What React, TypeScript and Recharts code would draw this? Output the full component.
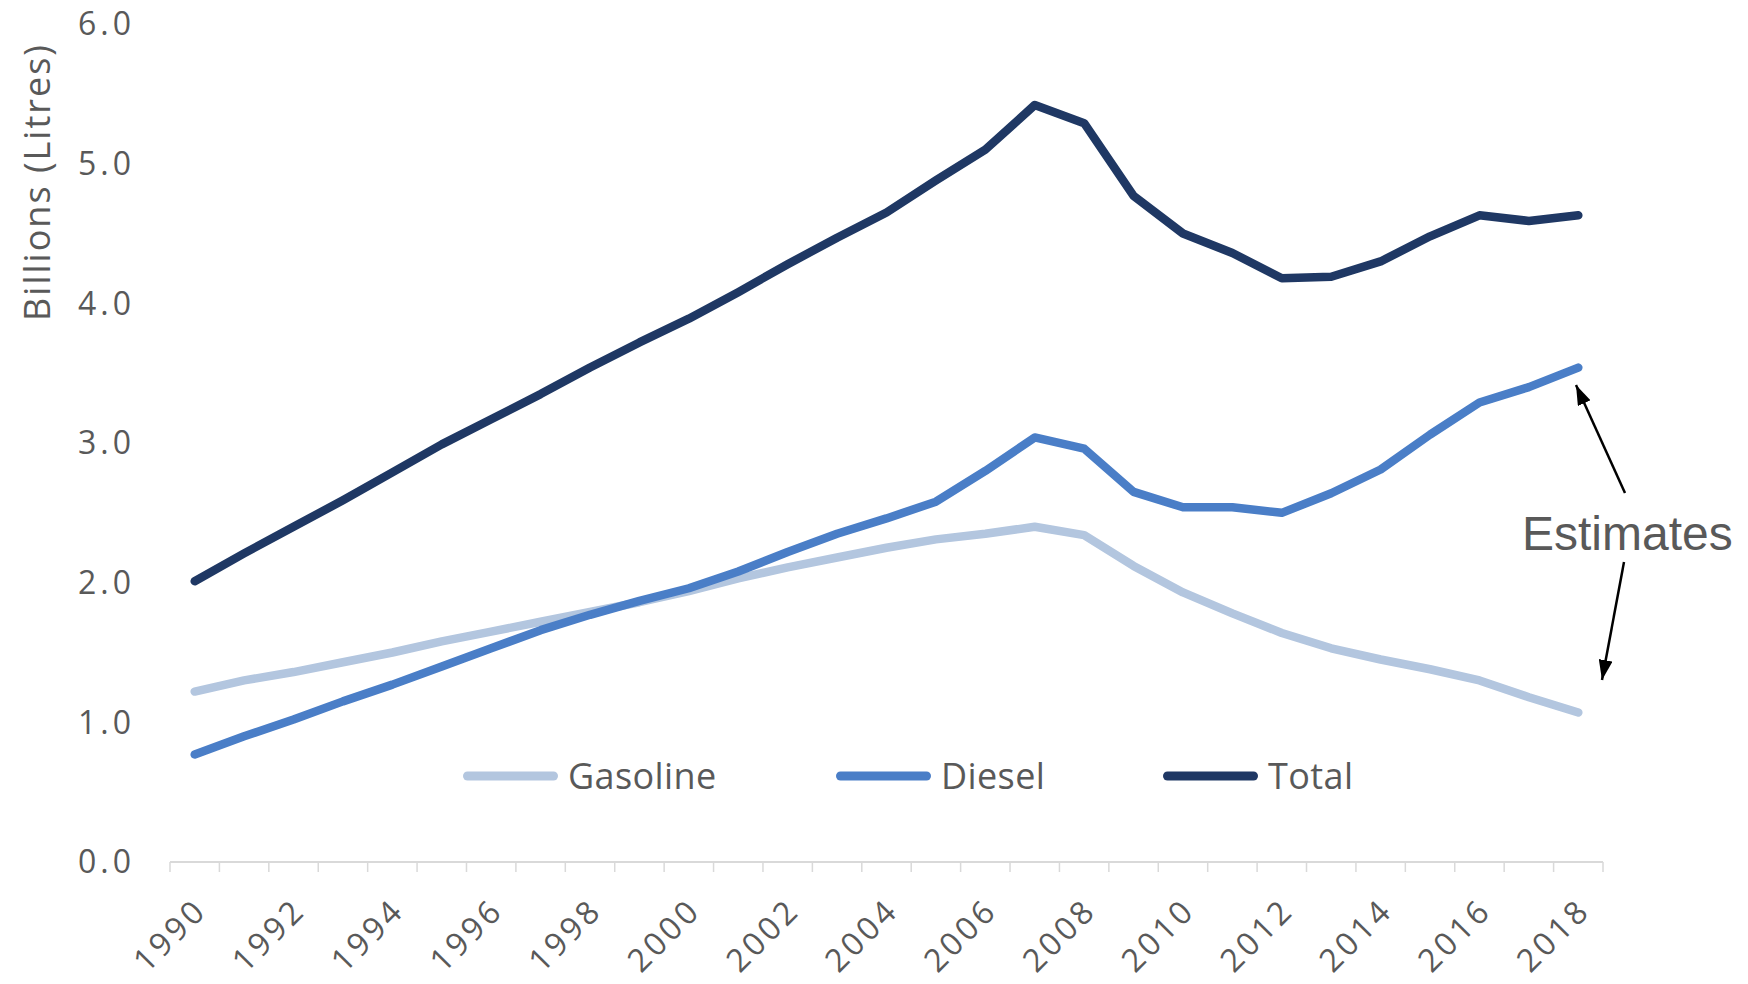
import React from 'react';
import { LineChart, Line, XAxis, YAxis, Legend } from 'recharts';

// ---------- data ----------
const years = [
  '1990', '1991', '1992', '1993', '1994', '1995', '1996', '1997', '1998', '1999',
  '2000', '2001', '2002', '2003', '2004', '2005', '2006', '2007', '2008', '2009',
  '2010', '2011', '2012', '2013', '2014', '2015', '2016', '2017', '2018',
];
const gasoline = [
  1.22, 1.30, 1.36, 1.43, 1.50, 1.58, 1.65, 1.72, 1.79, 1.86,
  1.94, 2.03, 2.11, 2.18, 2.25, 2.31, 2.35, 2.40, 2.34, 2.12,
  1.93, 1.78, 1.64, 1.53, 1.45, 1.38, 1.30, 1.18, 1.07,
];
const diesel = [
  0.77, 0.90, 1.02, 1.15, 1.27, 1.40, 1.53, 1.66, 1.77, 1.87,
  1.96, 2.08, 2.22, 2.35, 2.46, 2.58, 2.80, 3.04, 2.96, 2.65,
  2.54, 2.54, 2.50, 2.64, 2.81, 3.06, 3.29, 3.40, 3.54,
];
const total = [
  2.01, 2.21, 2.40, 2.59, 2.79, 2.99, 3.17, 3.35, 3.54, 3.72,
  3.89, 4.08, 4.28, 4.47, 4.65, 4.88, 5.10, 5.42, 5.29, 4.77,
  4.50, 4.36, 4.18, 4.19, 4.30, 4.48, 4.63, 4.59, 4.63,
];
const yTicks = [0, 1, 2, 3, 4, 5, 6];
const seriesNames = ['Gasoline', 'Diesel', 'Total'];
const seriesColors = ['#B3C6DF', '#4A7EC7', '#1F3864'];
const yAxisTitle = 'Billions (Litres)';
const annotationText = 'Estimates';

const data = years.map((year, i) => ({
  year,
  Gasoline: gasoline[i],
  Diesel: diesel[i],
  Total: total[i],
}));

// ---------- layout ----------
const W = 1740;
const H = 976;
const MARGIN = { top: 16, right: 145, left: 0, bottom: 0 };
const Y_AXIS_W = 162;
const X_AXIS_H = 122;
const PLOT_W = W - MARGIN.left - MARGIN.right - Y_AXIS_W;
const BAND = PLOT_W / years.length;
const TEXT_COLOR = '#595959';
const AXIS_COLOR = '#D9D9D9';
const TICK_FONT = '"Open Sans", "Noto Sans", sans-serif';

const XTick = (props: any) => {
  const { x, y, index, payload } = props;
  const half = BAND / 2;
  const isLast = index === years.length - 1;
  const showLabel = index % 2 === 0;
  const ax = x + 14;
  const ay = y + 50;
  return (
    <g>
      <line x1={x - half} y1={y} x2={x - half} y2={y + 10} stroke={AXIS_COLOR} strokeWidth={1.5} />
      {isLast && (
        <line x1={x + half} y1={y} x2={x + half} y2={y + 10} stroke={AXIS_COLOR} strokeWidth={1.5} />
      )}
      {showLabel && (
        <text
          x={ax}
          y={ay}
          textAnchor="end"
          transform={`rotate(-45 ${ax} ${ay})`}
          fontFamily={TICK_FONT}
          fontSize={32}
          letterSpacing={3.6}
          fill={TEXT_COLOR}
        >
          {payload.value}
        </text>
      )}
    </g>
  );
};

const YTick = (props: any) => {
  const { x, y, payload } = props;
  return (
    <text
      x={x - 35}
      y={y}
      dy="0.35em"
      textAnchor="end"
      fontFamily={TICK_FONT}
      fontSize={32}
      letterSpacing={4}
      fill={TEXT_COLOR}
    >
      {Number(payload.value).toFixed(1)}
    </text>
  );
};

const legendLeft = [455, 828, 1155];
const LEGEND_Y = 768;

const renderLegend = (props: any) => {
  const payload = [...(props.payload || [])].sort(
    (a: any, b: any) => seriesNames.indexOf(a.value) - seriesNames.indexOf(b.value)
  );
  return (
    <div style={{ position: 'relative', width: W, height: H }}>
      {payload.map((entry: any, i: number) => (
        <div
          key={entry.value}
          style={{
            position: 'absolute',
            left: legendLeft[i],
            top: LEGEND_Y - 25,
            height: 50,
            display: 'flex',
            alignItems: 'center',
            whiteSpace: 'nowrap',
          }}
        >
          <svg width={95} height={14} style={{ display: 'block' }}>
            <line x1={4.5} y1={7} x2={90.5} y2={7} stroke={entry.color} strokeWidth={9} strokeLinecap="round" />
          </svg>
          <span
            style={{
              marginLeft: 10,
              fontFamily: TICK_FONT,
              fontSize: 36,
              lineHeight: '50px',
              letterSpacing: 0.4,
              color: TEXT_COLOR,
            }}
          >
            {entry.value}
          </span>
        </div>
      ))}
    </div>
  );
};

export default function App() {
  return (
    <div style={{ position: 'relative', width: W, height: H, background: '#fff' }}>
      <LineChart width={W} height={H} data={data} margin={MARGIN}>
        <XAxis
          dataKey="year"
          interval={0}
          height={X_AXIS_H}
          padding={{ left: BAND / 2, right: BAND / 2 }}
          tickLine={false}
          tickSize={0}
          tickMargin={0}
          axisLine={{ stroke: AXIS_COLOR, strokeWidth: 2 }}
          tick={XTick}
        />
        <YAxis
          type="number"
          domain={[0, 6]}
          ticks={yTicks}
          width={Y_AXIS_W}
          axisLine={false}
          tickLine={false}
          tickSize={0}
          tickMargin={0}
          tick={YTick}
          interval={0}
        />
        <Legend
          layout="horizontal"
          verticalAlign="middle"
          align="center"
          content={renderLegend}
          wrapperStyle={{ left: 0, top: 0, width: W, height: H, pointerEvents: 'none' }}
        />
        {seriesNames.map((name, i) => (
          <Line
            key={name}
            type="linear"
            dataKey={name}
            name={name}
            stroke={seriesColors[i]}
            strokeWidth={8.5}
            strokeLinecap="round"
            strokeLinejoin="round"
            dot={false}
            activeDot={false}
            isAnimationActive={false}
            legendType="line"
          />
        ))}
      </LineChart>
      <svg
        width={W}
        height={H}
        style={{ position: 'absolute', left: 0, top: 0, pointerEvents: 'none' }}
      >
        <defs>
          <marker
            id="arrowHead"
            viewBox="0 0 20 14"
            refX={20}
            refY={7}
            markerWidth={20}
            markerHeight={14}
            markerUnits="userSpaceOnUse"
            orient="auto"
          >
            <path d="M0,0 L20,7 L0,14 z" fill="#000" />
          </marker>
        </defs>
        <text
          x={42}
          y={174}
          textAnchor="middle"
          transform="rotate(-90 42 174)"
          fontFamily={TICK_FONT}
          fontSize={36}
          letterSpacing={2}
          fill={TEXT_COLOR}
        >
          {yAxisTitle}
        </text>
        <text
          x={1514}
          y={542}
          fontFamily='"Liberation Sans", Arial, sans-serif'
          fontSize={48}
          fill={TEXT_COLOR}
        >
          {annotationText}
        </text>
        <line x1={1617} y1={485} x2={1568} y2={377} stroke="#000" strokeWidth={2.5} markerEnd="url(#arrowHead)" />
        <line x1={1616} y1={554} x2={1594} y2={672} stroke="#000" strokeWidth={2.5} markerEnd="url(#arrowHead)" />
      </svg>
    </div>
  );
}
